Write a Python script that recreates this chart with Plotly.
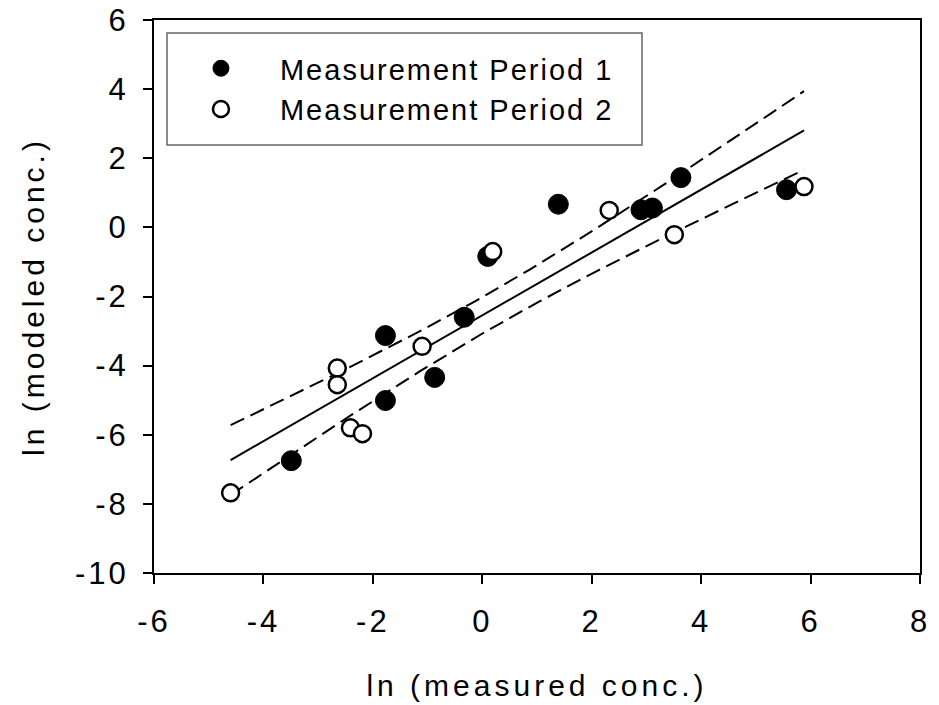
import numpy as np
import plotly.graph_objects as go

# ---- data ----
p1_x = [-3.49, -1.77, -1.77, -0.87, -0.33, 0.10, 1.39, 2.90, 3.11, 3.63, 5.56]
p1_y = [-6.75, -3.13, -5.01, -4.34, -2.60, -0.84, 0.67, 0.51, 0.56, 1.44, 1.09]
p2_x = [-4.60, -2.65, -2.65, -2.41, -2.19, -1.10, 0.19, 2.32, 3.51, 5.88]
p2_y = [-7.68, -4.07, -4.55, -5.80, -5.97, -3.44, -0.70, 0.49, -0.21, 1.18]
series_names = ["Measurement Period 1", "Measurement Period 2"]
x_ticks = [-6, -4, -2, 0, 2, 4, 6, 8]
y_ticks = [-10, -8, -6, -4, -2, 0, 2, 4, 6]
x_title = "ln (measured conc.)"
y_title = "ln (modeled conc.)"
T_95 = 2.093  # Student t, 95 %, df = n - 2 = 19

# ---- linear regression with 95 % confidence band for the mean ----
xa = np.array(p1_x + p2_x)
ya = np.array(p1_y + p2_y)
n = len(xa)
slope, intercept = np.polyfit(xa, ya, 1)
resid = ya - (slope * xa + intercept)
s = np.sqrt(np.sum(resid ** 2) / (n - 2))
sxx = np.sum((xa - xa.mean()) ** 2)
xf = np.linspace(xa.min(), xa.max(), 120)
yf = slope * xf + intercept
half = T_95 * s * np.sqrt(1.0 / n + (xf - xa.mean()) ** 2 / sxx)

fig = go.Figure()
dash_style = dict(color="black", width=2, dash="15px,7px")
fig.add_trace(go.Scatter(x=xf, y=yf + half, mode="lines", showlegend=False,
                         line=dash_style, hoverinfo="skip"))
fig.add_trace(go.Scatter(x=xf, y=yf - half, mode="lines", showlegend=False,
                         line=dash_style, hoverinfo="skip"))
fig.add_trace(go.Scatter(x=xf, y=yf, mode="lines", showlegend=False,
                         line=dict(color="black", width=2), hoverinfo="skip"))
fig.add_trace(go.Scatter(x=p1_x, y=p1_y, mode="markers", name=series_names[0],
                         marker=dict(symbol="circle", size=20, color="black",
                                     line=dict(color="black", width=1))))
fig.add_trace(go.Scatter(x=p2_x, y=p2_y, mode="markers", name=series_names[1],
                         marker=dict(symbol="circle", size=17, color="white",
                                     line=dict(color="black", width=2.5))))

FONT = "Liberation Sans, Arial, sans-serif"
axis_common = dict(showgrid=False, zeroline=False, showline=True, linecolor="black",
                   linewidth=2, mirror=True, ticks="outside", ticklen=9, tickwidth=2,
                   tickcolor="black", ticklabeloverflow="allow",
                   tickfont=dict(family=FONT, size=31, color="black"))

W, H = 939, 705
L, T = 154, 20
PW, PH = 766, 553
fig.update_layout(
    width=W, height=H,
    margin=dict(l=L, r=W - L - PW, t=T, b=H - T - PH, autoexpand=False),
    paper_bgcolor="white", plot_bgcolor="white",
    font=dict(family=FONT, color="black"),
    xaxis=dict(range=[-6, 8], tickvals=x_ticks, ticktext=[str(v) for v in x_ticks],
               ticklabelstandoff=11,
               title=dict(text=x_title, font=dict(family=FONT, size=30), standoff=37),
               **axis_common),
    yaxis=dict(range=[-10, 6], tickvals=y_ticks, ticktext=[str(v) for v in y_ticks],
               ticklabelstandoff=8,
               title=dict(text=y_title, font=dict(family=FONT, size=30), standoff=30),
               **axis_common),
    legend=dict(x=0.0104, xanchor="left", y=0.9586, yanchor="top",
                bgcolor="rgba(0,0,0,0)", borderwidth=0, itemwidth=108,
                font=dict(family=FONT, size=29, color="black"), tracegroupgap=0),
    shapes=[dict(type="rect", xref="paper", yref="paper",
                 x0=(167 - 154) / PW, x1=(642 - 154) / PW,
                 y0=1 - (145 - 20) / PH, y1=1 - (33 - 20) / PH,
                 line=dict(color="#666666", width=1.5), layer="below")],
)

post = """
document.body.style.margin = '0';
document.body.style.overflow = 'hidden';
var gd = document.getElementById('{plot_id}');
function sp(sel, v){ gd.querySelectorAll(sel).forEach(function(e){ e.style.letterSpacing = v; }); }
sp('.xtitle', '4px'); sp('.ytitle', '4px');
sp('.xtick text', '3px'); sp('.ytick text', '3px');
sp('.legendtext', '2px');
gd.querySelectorAll('.legend .scrollbox, .legend').forEach(function(e){ e.removeAttribute('clip-path'); });
"""
fig.write_html("out.html", post_script=post, config={"displayModeBar": False})
